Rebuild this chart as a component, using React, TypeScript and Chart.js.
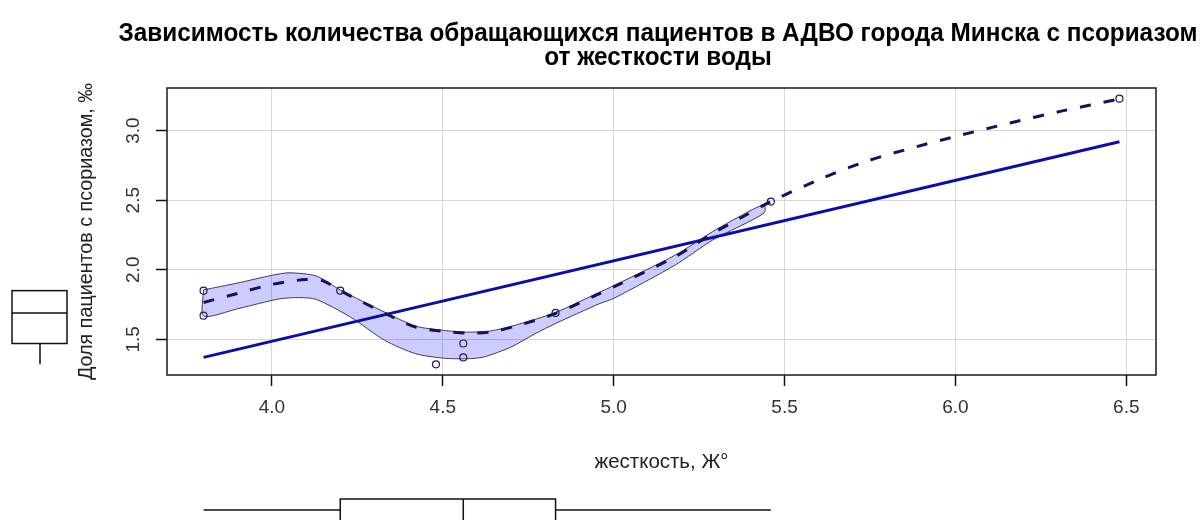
import React, { useEffect, useRef } from "react";
import { Chart, registerables } from "chart.js";

Chart.register(...registerables);

// ---- text ----
const titleLines = [
  "Зависимость количества обращающихся пациентов в АДВО города Минска с псориазом",
  "от жесткости воды",
];
const xAxisTitle = "жесткость, Ж°";
const yAxisTitle = "Доля пациентов с псориазом, ‰";

// ---- axes ----
const xTicks = [4.0, 4.5, 5.0, 5.5, 6.0, 6.5];
const yTicks = [1.5, 2.0, 2.5, 3.0];
const xRange = [3.693, 6.587];
const yRange = [1.2436, 3.3064];

// ---- observations ----
const hardness = [3.8, 3.8, 4.2, 4.48, 4.56, 4.56, 4.83, 5.46, 6.48];
const share = [1.85, 1.67, 1.85, 1.32, 1.47, 1.37, 1.69, 2.49, 3.23];

// ---- linear fit (read endpoints) ----
const fitX = [3.8, 6.48];
const fitY = [1.37, 2.92];

// ---- loess smoother ----
const smoothX = [3.8, 3.9, 4.0, 4.1, 4.15, 4.2, 4.33, 4.42, 4.5, 4.57, 4.64, 4.72, 4.83, 4.96, 5.0, 5.18, 5.29, 5.37, 5.46, 5.6, 5.74, 5.89, 6.02, 6.16, 6.31, 6.48];
const smoothY = [1.765, 1.83, 1.895, 1.93, 1.92, 1.85, 1.688, 1.589, 1.558, 1.546, 1.553, 1.6, 1.686, 1.83, 1.877, 2.094, 2.262, 2.37, 2.49, 2.647, 2.78, 2.887, 2.97, 3.055, 3.14, 3.228];

// ---- variability band ----
const bandUpperX = [3.8, 3.9, 4.0, 4.05, 4.13, 4.2, 4.33, 4.42, 4.5, 4.57, 4.64, 4.72, 4.83, 4.96, 5.0, 5.18, 5.29, 5.37, 5.44];
const bandUpperY = [1.855, 1.905, 1.96, 1.978, 1.955, 1.855, 1.695, 1.595, 1.565, 1.552, 1.56, 1.607, 1.693, 1.84, 1.885, 2.105, 2.275, 2.385, 2.467];
const bandLowerX = [3.8, 3.9, 4.02, 4.08, 4.13, 4.23, 4.33, 4.42, 4.5, 4.57, 4.62, 4.7, 4.77, 4.83, 4.96, 5.0, 5.18, 5.29, 5.44];
const bandLowerY = [1.667, 1.72, 1.79, 1.8, 1.787, 1.66, 1.493, 1.397, 1.365, 1.36, 1.373, 1.445, 1.54, 1.614, 1.758, 1.794, 2.034, 2.214, 2.407];

// ---- marginal boxplots: [min whisker, Q1, median, Q3, max whisker] ----
const xBoxStats = [3.8, 4.2, 4.56, 4.83, 5.46];
const yBoxStats = [1.32, 1.47, 1.69, 1.85, 1.85];

const FONT = "'Liberation Sans', Arial, sans-serif";

const pts = (xs: number[], ys: number[]) => xs.map((x, i) => ({ x, y: ys[i] }));

const decorPlugin = {
  id: "decor",
  afterDraw(chart: any) {
    const { ctx, chartArea: a, scales } = chart;
    const xs = scales.x;
    const ys = scales.y;
    ctx.save();

    // plot frame
    ctx.strokeStyle = "#1a1a1a";
    ctx.lineWidth = 1.5;
    ctx.strokeRect(a.left, a.top, a.right - a.left, a.bottom - a.top);

    // title (two lines)
    ctx.fillStyle = "#000";
    ctx.font = `bold 26px ${FONT}`;
    const w1 = ctx.measureText(titleLines[0]).width;
    const sx = 1079 / w1;
    ctx.textAlign = "center";
    ctx.textBaseline = "alphabetic";
    [41, 65].forEach((base, i) => {
      ctx.save();
      ctx.translate(658, base);
      ctx.scale(sx, 1);
      ctx.fillText(titleLines[i], 0, 0);
      ctx.restore();
    });

    // axis titles
    ctx.fillStyle = "#222";
    ctx.font = `20px ${FONT}`;
    const wx = ctx.measureText(xAxisTitle).width;
    ctx.save();
    ctx.translate((a.left + a.right) / 2, 468);
    ctx.scale(134 / wx, 1);
    ctx.fillText(xAxisTitle, 0, 0);
    ctx.restore();

    const wy = ctx.measureText(yAxisTitle).width;
    ctx.save();
    ctx.translate(92, (a.top + a.bottom) / 2);
    ctx.rotate(-Math.PI / 2);
    ctx.scale(297 / wy, 1);
    ctx.fillText(yAxisTitle, 0, 0);
    ctx.restore();

    // marginal boxplots
    ctx.strokeStyle = "#111";
    ctx.lineWidth = 1.5;
    // bottom: hardness
    const [bx0, bq1, bmd, bq3, bx1] = xBoxStats.map((v) => xs.getPixelForValue(v));
    const bTop = 499, bBot = 521, bMid = 510;
    ctx.beginPath();
    ctx.moveTo(bx0, bMid); ctx.lineTo(bq1, bMid);
    ctx.moveTo(bq3, bMid); ctx.lineTo(bx1, bMid);
    ctx.moveTo(bmd, bTop); ctx.lineTo(bmd, bBot);
    ctx.stroke();
    ctx.strokeRect(bq1, bTop, bq3 - bq1, bBot - bTop);
    // left: share
    const [ly0, lq1, lmd, lq3, ly1] = yBoxStats.map((v) => ys.getPixelForValue(v));
    const lL = 12, lR = 67, lMid = 40;
    ctx.beginPath();
    ctx.moveTo(lMid, ly0); ctx.lineTo(lMid, lq1);
    ctx.moveTo(lMid, lq3); ctx.lineTo(lMid, ly1);
    ctx.moveTo(lL, lmd); ctx.lineTo(lR, lmd);
    ctx.stroke();
    ctx.strokeRect(lL, lq3, lR - lL, lq1 - lq3);

    ctx.restore();
  },
};

export default function App() {
  const ref = useRef<HTMLCanvasElement | null>(null);

  useEffect(() => {
    if (!ref.current) return;
    const band = [
      ...pts(bandUpperX, bandUpperY),
      ...pts(bandLowerX, bandLowerY).reverse(),
      { x: bandUpperX[0], y: bandUpperY[0] },
    ];
    const chart = new Chart(ref.current, {
      type: "scatter",
      data: {
        datasets: [
          {
            label: "points",
            data: pts(hardness, share),
            pointRadius: 3.5,
            pointBorderWidth: 1.2,
            borderColor: "#1c1c5c",
            backgroundColor: "rgba(0,0,0,0)",
            order: 0,
          },
          {
            label: "smooth",
            data: pts(smoothX, smoothY),
            showLine: true,
            pointRadius: 0,
            borderColor: "#12125e",
            borderWidth: 3,
            borderDash: [11, 13],
            tension: 0.3,
            fill: false,
            order: 1,
          },
          {
            label: "fit",
            data: pts(fitX, fitY),
            showLine: true,
            pointRadius: 0,
            borderColor: "#0c0ca6",
            borderWidth: 3,
            fill: false,
            order: 2,
          },
          {
            label: "band",
            data: band,
            showLine: true,
            pointRadius: 0,
            borderColor: "#3a3a60",
            borderWidth: 1,
            backgroundColor: "rgba(0,0,255,0.2)",
            tension: 0.25,
            fill: "shape",
            order: 3,
          },
        ],
      },
      options: {
        responsive: false,
        animation: false,
        events: [],
        layout: { padding: { left: 0, right: 46, top: 88, bottom: 0 } },
        plugins: { legend: { display: false }, tooltip: { enabled: false }, title: { display: false } },
        scales: {
          x: {
            type: "linear",
            min: xRange[0],
            max: xRange[1],
            afterBuildTicks: (s: any) => { s.ticks = xTicks.map((v) => ({ value: v })); },
            afterFit: (s: any) => { s.height = 145; s.paddingLeft = 0; s.paddingRight = 0; },
            border: { display: false },
            grid: { color: "#d6d6d6", lineWidth: 1, tickColor: "#111", tickLength: 11, tickWidth: 1.5 },
            ticks: {
              padding: 10,
              color: "#333",
              font: { family: FONT, size: 19 },
              maxRotation: 0,
              callback: (v: any) => Number(v).toFixed(1),
            },
          },
          y: {
            type: "linear",
            min: yRange[0],
            max: yRange[1],
            afterBuildTicks: (s: any) => { s.ticks = yTicks.map((v) => ({ value: v })); },
            afterFit: (s: any) => { s.width = 167; s.paddingTop = 0; s.paddingBottom = 0; },
            border: { display: false },
            grid: { color: "#d6d6d6", lineWidth: 1, tickColor: "#111", tickLength: 11, tickWidth: 1.5 },
            ticks: {
              padding: 9,
              color: "#333",
              font: { family: FONT, size: 19 },
              minRotation: 90,
              maxRotation: 90,
              crossAlign: "center",
              callback: (v: any) => Number(v).toFixed(1),
            },
          },
        },
      },
      plugins: [decorPlugin],
    } as any);
    return () => chart.destroy();
  }, []);

  return (
    <div style={{ position: "absolute", left: 0, top: 0, width: 1202, height: 520, background: "#fff" }}>
      <canvas ref={ref} width={1202} height={520} style={{ display: "block" }} />
    </div>
  );
}
